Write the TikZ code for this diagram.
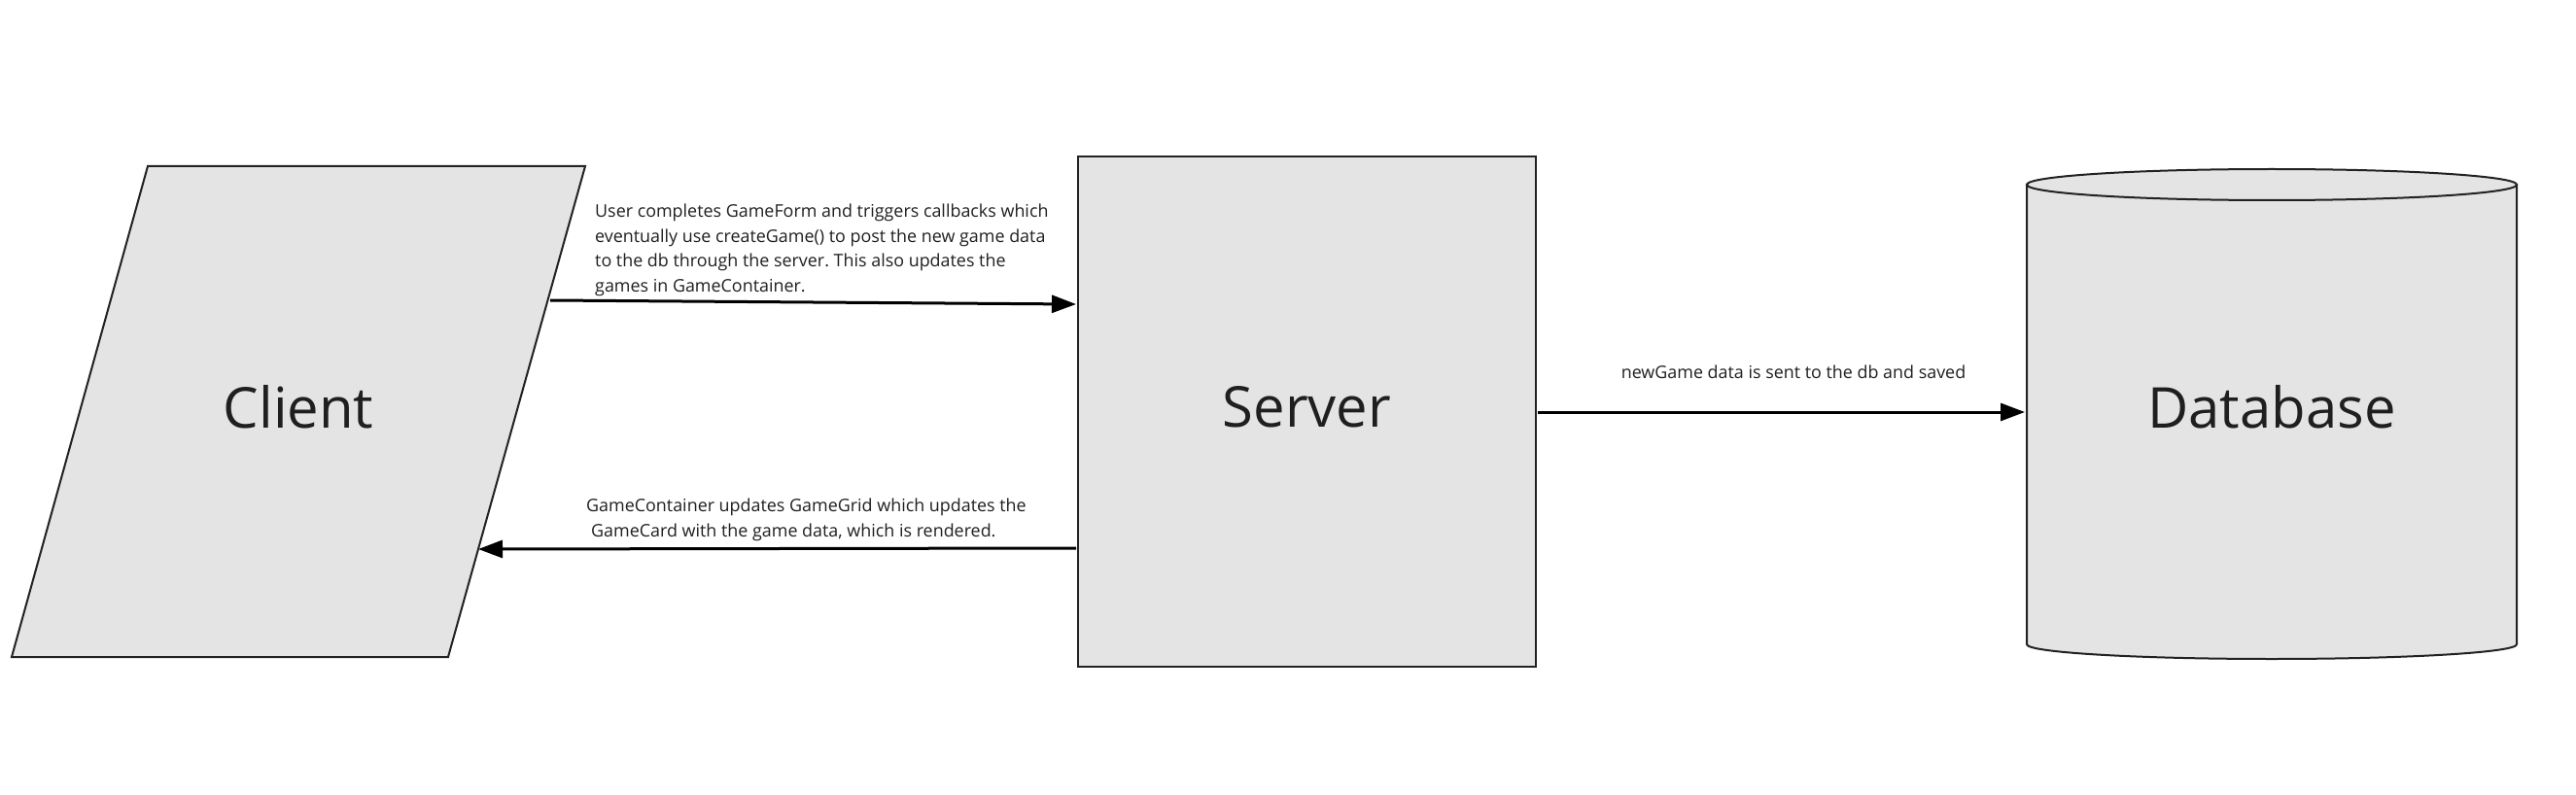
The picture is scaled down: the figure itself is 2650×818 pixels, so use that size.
\documentclass[tikz,border=0pt]{standalone}
\usepackage{fontspec}
\setmainfont{Open Sans}
\frenchspacing
\usetikzlibrary{arrows.meta}
\definecolor{shapefill}{HTML}{E4E4E4}
\definecolor{ink}{HTML}{222222}
\definecolor{txt}{HTML}{1F1F1F}
\tikzset{
  shapeline/.style={draw=ink, line width=2pt, fill=shapefill, line join=miter},
  conn/.style={draw=black, line width=3pt, -{Triangle[length=25pt,width=18pt]}},
  bigtext/.style={text=txt, font=\fontsize{58}{66}\selectfont, inner sep=0pt},
  smalltext/.style={text=txt, font=\fontsize{17.9}{25.5}\selectfont, inner sep=0pt, align=left},
}
\begin{document}
\begin{tikzpicture}[x=1pt, y=-1pt]
\useasboundingbox (0,0) rectangle (2650,818);
% Client parallelogram
\draw[shapeline] (152,171) -- (602,171) -- (461,676) -- (12,676) -- cycle;
\node[bigtext] (client) at (307,419) {Client};
\coordinate (cout) at (566,309);
\coordinate (cin) at (492,565);
% Server
\node[shapeline, minimum width=471pt, minimum height=525pt, inner sep=0pt] (server) at (1344.5,423.5) {};
\node[bigtext] (servertext) at (1344.5,419) {Server};
% Database cylinder
\draw[shapeline] (2085,190) -- (2085,663) arc[start angle=180, end angle=360, x radius=252pt, y radius=15pt] -- (2589,190) -- cycle;
\draw[shapeline] (2337,190) ellipse[x radius=252pt, y radius=16pt];
\node[bigtext] (db) at (2337,419) {Database};
\coordinate (dbin) at (2083,424);
% Connectors
\coordinate (sin) at (1107,313);
\coordinate (sout) at (1107,564);
\coordinate (sright) at (1582,424);
\draw[conn] (cout) -- (sin);
\draw[conn] (sout) -- (cin);
\draw[conn] (sright) -- (dbin);
% Labels
\node[smalltext, anchor=north west] (lab1) at (612,210) {User completes GameForm and triggers callbacks which\\eventually use createGame() to post the new game data\\to the db through the server. This also updates the\\games in GameContainer.};
\node[smalltext, anchor=north west] (lab2) at (603,513) {GameContainer updates GameGrid which updates the\\\hspace{5pt}GameCard with the game data, which is rendered.};
\node[smalltext, anchor=north] (lab3) at (1845,376) {newGame data is sent to the db and saved};
\end{tikzpicture}
\end{document}
